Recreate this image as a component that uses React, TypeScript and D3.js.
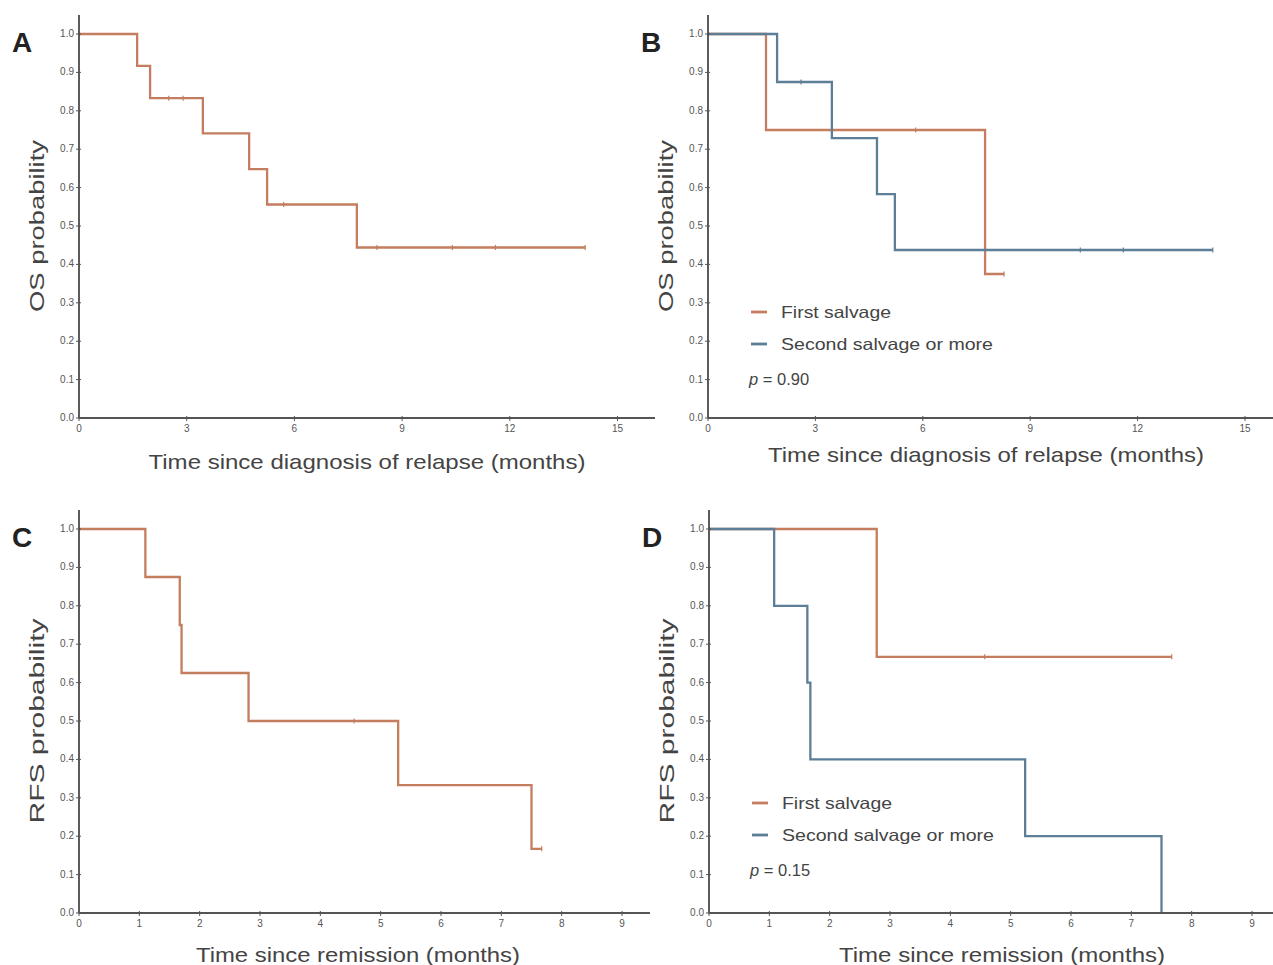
import React from "react";
import * as d3 from "d3";

// OS, whole cohort
const osAllTimes = [0, 1.62, 1.98, 3.45, 4.74, 5.24, 7.74, 14.1];
const osAllSurv = [1, 0.917, 0.833, 0.741, 0.648, 0.556, 0.444, 0.444];
const osAllCensor = [2.5, 2.9, 5.7, 8.3, 10.4, 11.6, 14.1];

// OS by salvage line
const osFirstTimes = [0, 1.62, 7.74, 8.27];
const osFirstSurv = [1, 0.75, 0.375, 0.375];
const osFirstCensor = [5.8, 8.27];
const osSecondTimes = [0, 1.93, 3.46, 4.72, 5.22, 14.1];
const osSecondSurv = [1, 0.875, 0.729, 0.583, 0.4375, 0.4375];
const osSecondCensor = [2.6, 10.4, 11.6, 14.1];

// RFS, whole cohort
const rfsAllTimes = [0, 1.1, 1.67, 1.7, 2.81, 5.29, 7.5, 7.67];
const rfsAllSurv = [1, 0.875, 0.75, 0.625, 0.5, 0.333, 0.167, 0.167];
const rfsAllCensor = [4.56, 7.67];

// RFS by salvage line
const rfsFirstTimes = [0, 2.78, 7.67];
const rfsFirstSurv = [1, 0.667, 0.667];
const rfsFirstCensor = [4.57, 7.67];
const rfsSecondTimes = [0, 1.08, 1.63, 1.68, 5.24, 7.5];
const rfsSecondSurv = [1, 0.8, 0.6, 0.4, 0.2, 0];
const rfsSecondCensor: number[] = [];

const osTicks = [0, 3, 6, 9, 12, 15];
const rfsTicks = [0, 1, 2, 3, 4, 5, 6, 7, 8, 9];
const yTicks = [0, 0.1, 0.2, 0.3, 0.4, 0.5, 0.6, 0.7, 0.8, 0.9, 1.0];
const groupNames = ["First salvage", "Second salvage or more"];

const ORANGE = "#c47d5e";
const BLUE = "#5d7e97";
const FONT = "Liberation Sans, Arial, sans-serif";

type Curve = { times: number[]; surv: number[]; censor: number[]; color: string };

const Panel = ({ letter, x0, x1, axisEnd, y0, y1, xMax, xTicks, yLabel, yLabelLen, xLabel, xLabelX, xLabelY, xLabelLen, legendY, curves, pValue }: any) => {
  const x = d3.scaleLinear().domain([0, xMax]).range([x0, x1]);
  const y = d3.scaleLinear().domain([0, 1]).range([y0, y1]);
  const line = d3
    .line<[number, number]>()
    .x((d) => x(d[0]))
    .y((d) => y(d[1]))
    .curve(d3.curveStepAfter);

  const survAt = (c: Curve, t: number) => {
    let s = 1;
    c.times.forEach((tt, i) => {
      if (tt <= t) s = c.surv[i];
    });
    return s;
  };

  return (
    <g>
      <text x={x0 - 67} y={y1 + 18} fontSize={28} fontWeight="bold" fill="#222" fontFamily={FONT}>
        {letter}
      </text>
      {/* curves */}
      {curves.map((c: Curve, i: number) => (
        <g key={i}>
          <path
            d={line(c.times.map((t, k) => [t, c.surv[k]] as [number, number])) || ""}
            fill="none"
            stroke={c.color}
            strokeWidth={2.3}
          />
          {c.censor.map((t, k) => (
            <line key={k} x1={x(t)} x2={x(t)} y1={y(survAt(c, t)) - 2.5} y2={y(survAt(c, t)) + 2.5} stroke={c.color} strokeWidth={1.2} />
          ))}
        </g>
      ))}
      {/* axes */}
      <line x1={x0} x2={x0} y1={y0} y2={y1 - 19} stroke="#333" strokeWidth={1.6} />
      <line x1={x0} x2={axisEnd} y1={y0} y2={y0} stroke="#555" strokeWidth={2.2} />
      {yTicks.map((t) => (
        <g key={t}>
          <line x1={x0 - 3} x2={x0 + 2} y1={y(t)} y2={y(t)} stroke="#555" strokeWidth={1} />
          <text x={x0 - 5} y={y(t) + 3} fontSize={10} fill="#555" textAnchor="end" fontFamily={FONT}>
            {d3.format(".1f")(t)}
          </text>
        </g>
      ))}
      {xTicks.map((t: number) => (
        <g key={t}>
          <line x1={x(t)} x2={x(t)} y1={y0 - 2} y2={y0 + 3} stroke="#555" strokeWidth={1} />
          <text x={x(t)} y={y0 + 14} fontSize={10} fill="#555" textAnchor="middle" fontFamily={FONT}>
            {t}
          </text>
        </g>
      ))}
      <text
        transform={`translate(${x0 - 35},${(y0 + y1) / 2}) rotate(-90)`}
        fontSize={21}
        fill="#444"
        textAnchor="middle"
        fontFamily={FONT}
        textLength={yLabelLen}
        lengthAdjust="spacingAndGlyphs"
      >
        {yLabel}
      </text>
      <text
        x={xLabelX}
        y={xLabelY}
        fontSize={21}
        fill="#444"
        textAnchor="middle"
        fontFamily={FONT}
        textLength={xLabelLen}
        lengthAdjust="spacingAndGlyphs"
      >
        {xLabel}
      </text>
      {pValue && (
        <g fontFamily={FONT} fontSize={16.5} fill="#444">
          {groupNames.map((g, i) => (
            <g key={g}>
              <line x1={x0 + 43} x2={x0 + 59} y1={legendY + i * 32} y2={legendY + i * 32} stroke={curves[i].color} strokeWidth={2.8} />
              <text x={x0 + 73} y={legendY + 6 + i * 32} textLength={i === 0 ? 110 : 212} lengthAdjust="spacingAndGlyphs">
                {g}
              </text>
            </g>
          ))}
          <text x={x0 + 41} y={legendY + 73}>
            <tspan fontStyle="italic">p</tspan> = {pValue}
          </text>
        </g>
      )}
    </g>
  );
};

export default function App() {
  return (
    <div style={{ position: "absolute", left: 0, top: 0 }}>
      <svg width={1273} height={965} style={{ display: "block", background: "#fff" }}>
        <Panel
          letter="A"
          x0={79}
          x1={617.5}
          axisEnd={655}
          y0={418}
          y1={34}
          xMax={15}
          xTicks={osTicks}
          yLabel="OS probability"
          yLabelLen={172}
          xLabel="Time since diagnosis of relapse (months)"
          xLabelX={367}
          xLabelY={469}
          xLabelLen={437}
          curves={[{ times: osAllTimes, surv: osAllSurv, censor: osAllCensor, color: ORANGE }]}
        />
        <Panel
          letter="B"
          x0={708}
          x1={1245}
          axisEnd={1273}
          y0={418}
          y1={34}
          xMax={15}
          xTicks={osTicks}
          yLabel="OS probability"
          yLabelLen={172}
          xLabel="Time since diagnosis of relapse (months)"
          xLabelX={986}
          xLabelY={462}
          xLabelLen={436}
          legendY={312}
          pValue="0.90"
          curves={[
            { times: osFirstTimes, surv: osFirstSurv, censor: osFirstCensor, color: ORANGE },
            { times: osSecondTimes, surv: osSecondSurv, censor: osSecondCensor, color: BLUE },
          ]}
        />
        <Panel
          letter="C"
          x0={79}
          x1={622}
          axisEnd={650}
          y0={913}
          y1={529}
          xMax={9}
          xTicks={rfsTicks}
          yLabel="RFS probability"
          yLabelLen={205}
          xLabel="Time since remission (months)"
          xLabelX={358}
          xLabelY={962}
          xLabelLen={324}
          curves={[{ times: rfsAllTimes, surv: rfsAllSurv, censor: rfsAllCensor, color: ORANGE }]}
        />
        <Panel
          letter="D"
          x0={709}
          x1={1252}
          axisEnd={1273}
          y0={913}
          y1={529}
          xMax={9}
          xTicks={rfsTicks}
          yLabel="RFS probability"
          yLabelLen={205}
          xLabel="Time since remission (months)"
          xLabelX={1002}
          xLabelY={962}
          xLabelLen={326}
          legendY={803}
          pValue="0.15"
          curves={[
            { times: rfsFirstTimes, surv: rfsFirstSurv, censor: rfsFirstCensor, color: ORANGE },
            { times: rfsSecondTimes, surv: rfsSecondSurv, censor: rfsSecondCensor, color: BLUE },
          ]}
        />
      </svg>
    </div>
  );
}
